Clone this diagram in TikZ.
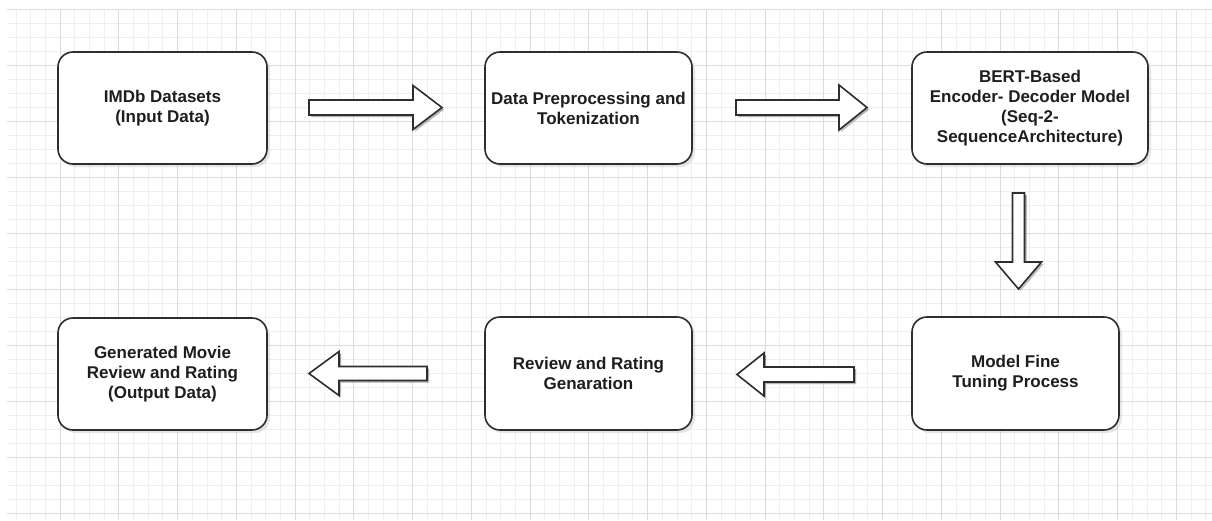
\documentclass[tikz,border=0pt]{standalone}
\usepackage{fontspec}
\setmainfont{Liberation Sans}
\usetikzlibrary{shadows}
\definecolor{ink}{HTML}{2E2E2E}
\definecolor{txt}{HTML}{1E1E1E}
\definecolor{gridmajor}{HTML}{DCDCDC}
\definecolor{gridminor}{HTML}{EFEFEF}
\definecolor{shade}{HTML}{B8B8C0}

\tikzset{
  box/.style={draw=ink, line width=1.6pt, fill=white, rounded corners=15pt,
    inner sep=0pt, align=center, text=txt,
    font=\bfseries\fontsize{17}{20}\selectfont,
    drop shadow={opacity=0.35, shadow xshift=3pt, shadow yshift=-3pt, fill=shade}},
  arrowline/.style={draw=ink, line width=1.6pt, fill=white, line join=miter},
  % hollow block arrow: length, head length, shaft half width, head half width
  pics/blockarrow/.style n args={4}{code={
    \fill[shade, opacity=0.35, transform canvas={shift={(2pt,-2pt)}}]
      (0,-#3) -- ({#1-#2},-#3) -- ({#1-#2},-#4) -- (#1,0) -- ({#1-#2},#4)
      -- ({#1-#2},#3) -- (0,#3) -- cycle;
    \draw[arrowline]
      (0,-#3) -- ({#1-#2},-#3) -- ({#1-#2},-#4) -- (#1,0) -- ({#1-#2},#4)
      -- ({#1-#2},#3) -- (0,#3) -- cycle;
  }}
}

\begin{document}
\begin{tikzpicture}[x=1pt, y=-1pt]
  % canvas
  \fill[white] (0,0) rectangle (1212,520);
  \useasboundingbox (0,0) rectangle (1212,520);

  % background grid
  \begin{scope}
    \clip (7,9) rectangle (1212,520);
    \foreach \i in {0,...,83}
      \draw[gridminor, line width=0.8pt] ({1.3+\i*14.6875},9) -- ({1.3+\i*14.6875},520);
    \foreach \j in {0,...,37}
      \draw[gridminor, line width=0.8pt] (7,{9+\j*14}) -- (1212,{9+\j*14});
    \foreach \i in {0,...,21}
      \draw[gridmajor, line width=1pt] ({1.3+\i*58.75},9) -- ({1.3+\i*58.75},520);
    \foreach \j in {0,...,9}
      \draw[gridmajor, line width=1pt] (7,{9+\j*56}) -- (1212,{9+\j*56});
  \end{scope}

  % process steps
  \node[box, minimum width=209pt, minimum height=112pt] (imdb) at (162.5,108)
    {IMDb Datasets\\(Input Data)};
  \node[box, minimum width=207pt, minimum height=112pt] (prep) at (588.5,108)
    {Data Preprocessing and\\Tokenization};
  \node[box, minimum width=236pt, minimum height=112pt] (bert) at (1030,108)
    {BERT-Based\\Encoder- Decoder Model\\(Seq-2-\\SequenceArchitecture)};
  \node[box, minimum width=207pt, minimum height=113pt] (tune) at (1015.5,373.5)
    {Model Fine\\Tuning Process};
  \node[box, minimum width=207pt, minimum height=113pt] (gen) at (588.5,373.5)
    {Review and Rating\\Genaration};
  \node[box, minimum width=209pt, minimum height=112pt] (out) at (162.5,374)
    {Generated Movie\\Review and Rating\\(Output Data)};

  % block arrows between the steps
  \coordinate (a1) at (309,107.5);
  \coordinate (a2) at (736,107.5);
  \coordinate (a3) at (1018.5,193);
  \coordinate (a4) at (854,374.5);
  \coordinate (a5) at (427,373.5);
  \pic at (a1) {blockarrow={133}{29}{7.5}{22}};
  \pic at (a2) {blockarrow={131}{28}{7.5}{22.5}};
  \pic[rotate=-90] at (a3) {blockarrow={96}{27}{6}{23}};
  \pic[rotate=180] at (a4) {blockarrow={117}{27}{7.5}{21.5}};
  \pic[rotate=180] at (a5) {blockarrow={118}{30}{7}{22}};
\end{tikzpicture}
\end{document}
